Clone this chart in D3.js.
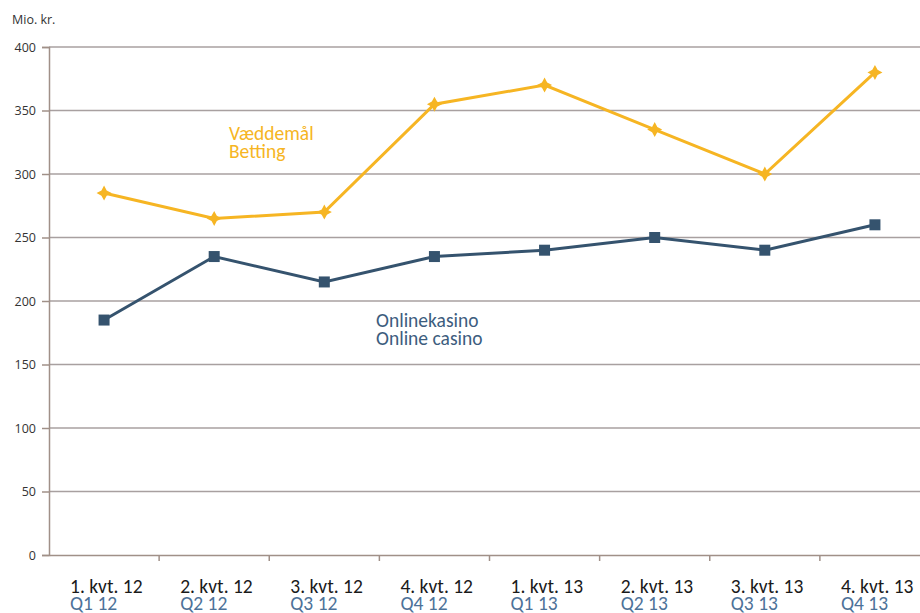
<!DOCTYPE html>
<html>
<head>
<meta charset="utf-8">
<script src="https://cdnjs.cloudflare.com/ajax/libs/d3/7.8.5/d3.min.js"></script>
<style>
  body { margin: 0; background: #fff; }
  svg { display: block; font-family: Calibri, Carlito, Lato, "Open Sans", sans-serif; }
</style>
</head>
<body>
<div id="chart"></div>
<script>
// quarters, Danish and English labels
var quartersDa = ["1. kvt. 12", "2. kvt. 12", "3. kvt. 12", "4. kvt. 12", "1. kvt. 13", "2. kvt. 13", "3. kvt. 13", "4. kvt. 13"];
var quartersEn = ["Q1 12", "Q2 12", "Q3 12", "Q4 12", "Q1 13", "Q2 13", "Q3 13", "Q4 13"];
var betting = [285, 265, 270, 355, 370, 335, 300, 380];
var casino = [185, 235, 215, 235, 240, 250, 240, 260];
var yTicks = [0, 50, 100, 150, 200, 250, 300, 350, 400];

var svgWidth = 920, svgHeight = 613;
var margin = { top: 47, left: 49, bottom: 58, right: -10 };
var width = svgWidth - margin.left - margin.right;
var height = svgHeight - margin.top - margin.bottom;

var svg = d3.select("#chart").append("svg")
  .attr("width", svgWidth)
  .attr("height", svgHeight);

var chartGroup = svg.append("g")
  .attr("transform", `translate(${margin.left}, ${margin.top})`);

var xScale = d3.scaleBand()
  .domain(quartersDa)
  .range([0, width]);

var yScale = d3.scaleLinear()
  .domain([0, 400])
  .range([height, 0]);

// gridlines
chartGroup.append("g")
  .selectAll("line")
  .data(yTicks.filter(d => d > 0))
  .enter().append("line")
  .attr("x1", 0)
  .attr("x2", width)
  .attr("y1", d => yScale(d))
  .attr("y2", d => yScale(d))
  .attr("stroke", "#a8a0a0")
  .attr("stroke-width", 1.5);

// y axis
var yAxis = d3.axisLeft(yScale).tickValues(yTicks).tickSize(7).tickPadding(6);
var yG = chartGroup.append("g").call(yAxis);
yG.select(".domain").attr("stroke", "#a09088").attr("stroke-width", 1.5);
yG.selectAll(".tick line").attr("stroke", "#a09088").attr("stroke-width", 1.5);
yG.selectAll(".tick text")
  .attr("fill", "#333")
  .style("font-size", "12.5px")
  .style("font-family", "'Open Sans', sans-serif");

// x axis
var xAxis = d3.axisBottom(xScale).tickSize(0).tickFormat("");
var xG = chartGroup.append("g")
  .attr("transform", `translate(0, ${height})`)
  .call(xAxis);
xG.select(".domain").attr("stroke", "#a09088").attr("stroke-width", 1.5);
xG.selectAll(".xtick")
  .data(quartersDa.slice(1))
  .enter().append("line")
  .attr("x1", d => xScale(d))
  .attr("x2", d => xScale(d))
  .attr("y1", 0)
  .attr("y2", 6)
  .attr("stroke", "#a09088")
  .attr("stroke-width", 1.5);

var labels = chartGroup.append("g").attr("transform", `translate(0, ${height})`);
labels.selectAll(".da")
  .data(quartersDa)
  .enter().append("text")
  .attr("x", d => xScale(d) + 21)
  .attr("y", 38)
  .attr("fill", "#1a1a1a")
  .style("font-size", "19.5px")
  .text(d => d);
labels.selectAll(".en")
  .data(quartersEn)
  .enter().append("text")
  .attr("x", (d, i) => xScale(quartersDa[i]) + 21)
  .attr("y", 55)
  .attr("fill", "#4d7299")
  .style("font-size", "19.5px")
  .text(d => d);

// y unit label
svg.append("text")
  .attr("x", 12)
  .attr("y", 24)
  .attr("fill", "#333")
  .style("font-size", "12.5px")
  .style("font-family", "'Open Sans', sans-serif")
  .text("Mio. kr.");

var cx = (d, i) => xScale(quartersDa[i]) + xScale.bandwidth() / 2;
var line = d3.line().x(cx).y(d => yScale(d));

// small 4-point star marker
var star4 = {
  draw: function(context, size) {
    var r = Math.sqrt(size) * 0.75, k = r * 0.35;
    context.moveTo(0, -r);
    context.lineTo(k, -k);
    context.lineTo(r, 0);
    context.lineTo(k, k);
    context.lineTo(0, r);
    context.lineTo(-k, k);
    context.lineTo(-r, 0);
    context.lineTo(-k, -k);
    context.closePath();
  }
};

// betting
chartGroup.append("path")
  .datum(betting)
  .attr("d", line)
  .attr("fill", "none")
  .attr("stroke", "#f6b523")
  .attr("stroke-width", 3);
chartGroup.selectAll(".bet")
  .data(betting)
  .enter().append("path")
  .attr("transform", (d, i) => `translate(${cx(d, i)}, ${yScale(d)})`)
  .attr("d", d3.symbol().type(star4).size(100))
  .attr("fill", "#f6b523");

// casino
chartGroup.append("path")
  .datum(casino)
  .attr("d", line)
  .attr("fill", "none")
  .attr("stroke", "#35536e")
  .attr("stroke-width", 3);
chartGroup.selectAll(".cas")
  .data(casino)
  .enter().append("rect")
  .attr("x", (d, i) => cx(d, i) - 5.5)
  .attr("y", d => yScale(d) - 5.5)
  .attr("width", 11)
  .attr("height", 11)
  .attr("fill", "#35536e");

// series labels
var betLabel = svg.append("text")
  .attr("fill", "#f6b523")
  .style("font-size", "19.5px");
betLabel.append("tspan").attr("x", 229).attr("y", 140).text("Væddemål");
betLabel.append("tspan").attr("x", 229).attr("y", 158).text("Betting");

var casLabel = svg.append("text")
  .attr("fill", "#3d5d7e")
  .style("font-size", "19.5px");
casLabel.append("tspan").attr("x", 376).attr("y", 327).text("Onlinekasino");
casLabel.append("tspan").attr("x", 376).attr("y", 345).text("Online casino");
</script>
</body>
</html>
